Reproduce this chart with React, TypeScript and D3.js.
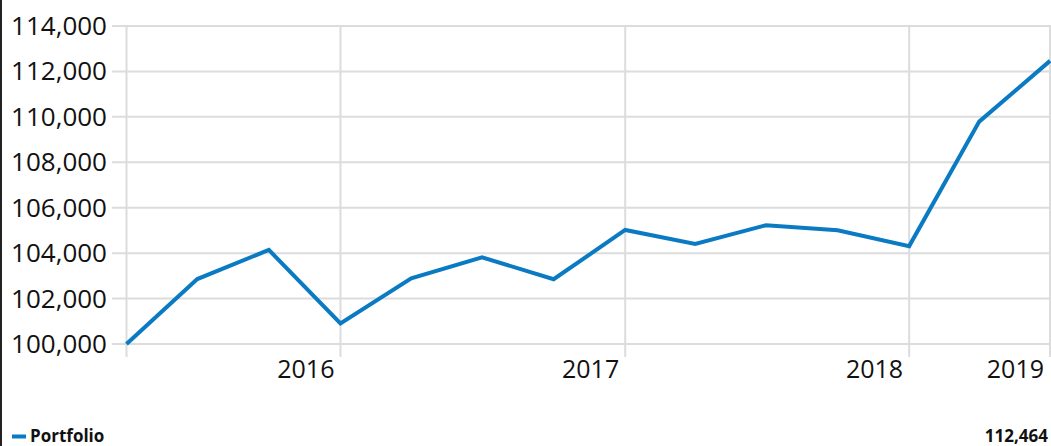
import * as d3 from "d3";

const dates = [
  "2015-04-01", "2015-07-01", "2015-10-01",
  "2016-01-01", "2016-04-01", "2016-07-01", "2016-10-01",
  "2017-01-01", "2017-04-01", "2017-07-01", "2017-10-01",
  "2018-01-01", "2018-04-01", "2018-07-01",
];
const portfolio = [
  100000, 102860, 104140,
  100910, 102890, 103820, 102850,
  105020, 104400, 105230, 105010,
  104310, 109790, 112464,
];
const yTicks = [100000, 102000, 104000, 106000, 108000, 110000, 112000, 114000];
const xTickDates = ["2016-01-01", "2017-01-01", "2018-01-01", "2018-07-01"];
const xTickLabels = ["2016", "2017", "2018", "2019"];
const seriesName = "Portfolio";

const W = 1051;
const H = 446;
const FONT = "'Open Sans', 'Noto Sans', sans-serif";
const BLUE = "#0a7bc2";
const GRID = "#dcdcdc";

export default function App() {
  const parse = d3.utcParse("%Y-%m-%d");
  const pts = dates.map((d, i) => ({ date: parse(d) as Date, value: portfolio[i] }));

  const x = d3
    .scaleUtc()
    .domain(d3.extent(pts, (d) => d.date) as [Date, Date])
    .range([126.5, 1050]);
  const y = d3.scaleLinear().domain([100000, 114000]).range([344, 26]);

  const line = d3
    .line<{ date: Date; value: number }>()
    .x((d) => x(d.date))
    .y((d) => y(d.value));

  const fmt = d3.format(",");
  const last = portfolio[portfolio.length - 1];

  // vertical grid: left edge + year ticks
  const vLines = [x.domain()[0], ...xTickDates.map((d) => parse(d) as Date)];

  return (
    <svg
      width={W}
      height={H}
      style={{ position: "absolute", left: 0, top: 0, background: "#fff" }}
      fontFamily={FONT}
    >
      {/* left border */}
      <line x1={1} x2={1} y1={0} y2={H} stroke="#222" strokeWidth={2} />

      {/* horizontal grid + y labels */}
      {yTicks.map((t) => (
        <g key={t}>
          <line x1={112} x2={W} y1={y(t)} y2={y(t)} stroke={GRID} strokeWidth={2} />
          <text x={107} y={y(t) + 9} textAnchor="end" fontSize={26} fill="#111">
            {fmt(t)}
          </text>
        </g>
      ))}

      {/* vertical grid */}
      {vLines.map((d, i) => (
        <line
          key={i}
          x1={x(d)}
          x2={x(d)}
          y1={y(114000)}
          y2={357}
          stroke={GRID}
          strokeWidth={2}
        />
      ))}

      {/* x labels, right-aligned to their grid line */}
      {xTickDates.map((d, i) => (
        <text
          key={d}
          x={x(parse(d) as Date) - 6}
          y={378}
          textAnchor="end"
          fontSize={25}
          fill="#111"
        >
          {xTickLabels[i]}
        </text>
      ))}

      {/* series */}
      <path d={line(pts) ?? ""} fill="none" stroke={BLUE} strokeWidth={4} strokeLinejoin="miter" />

      {/* legend */}
      <line x1={12} x2={26} y1={436.5} y2={436.5} stroke={BLUE} strokeWidth={4} />
      <text x={30} y={442} fontSize={17} fontWeight="bold" fill="#111">
        {seriesName}
      </text>
      <text x={1048} y={442} textAnchor="end" fontSize={17} fontWeight="bold" fill="#111">
        {fmt(last)}
      </text>
    </svg>
  );
}
